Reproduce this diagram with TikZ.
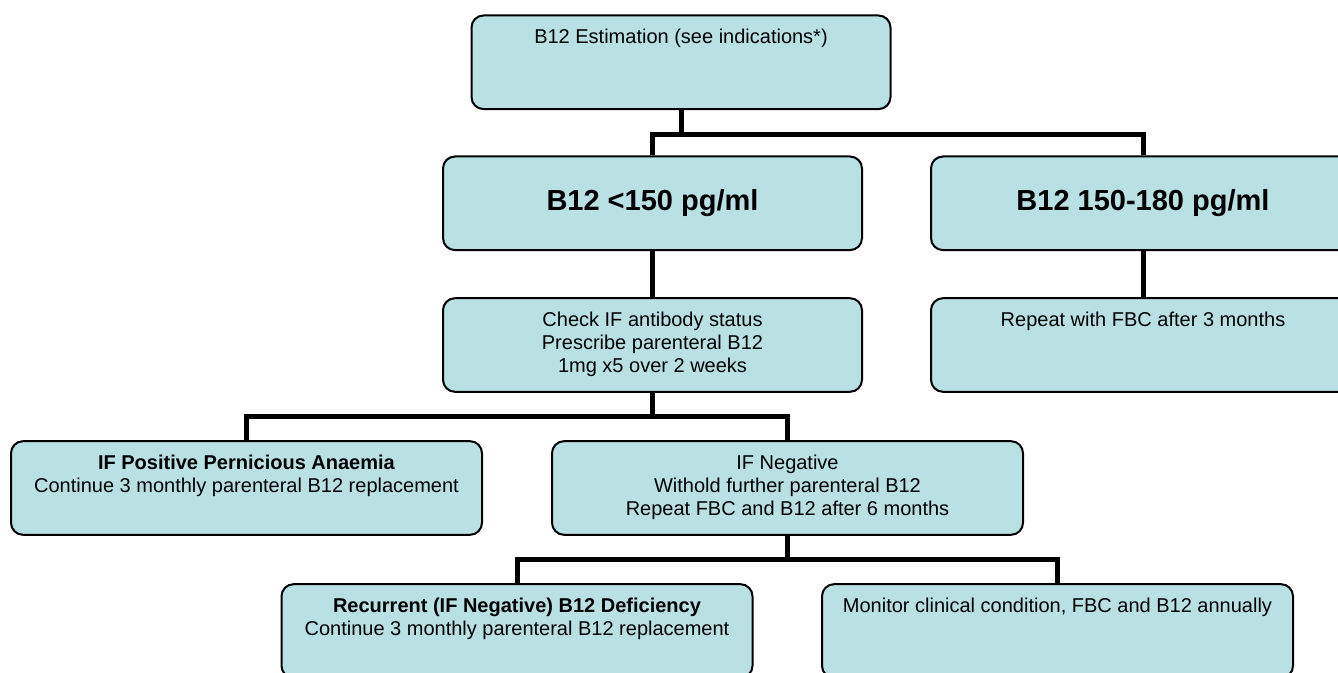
\documentclass[tikz,border=0pt]{standalone}
\usepackage{fontspec}
\setmainfont{Liberation Sans}
\usepackage{xcolor}
\definecolor{boxfill}{RGB}{185,224,227}

\tikzset{
    box/.style={draw,line width=1pt,rounded corners=6pt,fill=boxfill,minimum height=46.8pt},
    nar/.style={minimum width=209.5pt},
    mid/.style={minimum width=212pt},
    wid/.style={minimum width=235.5pt},
    txt/.style={anchor=north,align=center,inner sep=0pt,yshift=-7pt,font=\fontsize{10}{11.5}\selectfont},
    big/.style={font=\bfseries\fontsize{14.5}{17}\selectfont},
    link/.style={line width=2.5pt}
}

\begin{document}
\begin{tikzpicture}[x=0.5pt,y=-0.5pt]
            \useasboundingbox (0,0) rectangle (1338,673);
            \clip (0,0) rectangle (1338,673);

            \node (est) at (681,62.3) [box,nar,label={[txt,name=estt]north:{B12 Estimation (see indications*)}}] {};
            \node (lo) at (652.5,203.3) [box,nar,big] {B12 <150 pg/ml};
            \node (hi) at (1143,203.3) [box,mid,big] {B12 150-180 pg/ml};
            \node (chk) at (652.5,345) [box,nar,label={[txt,name=chkt]north:{Check IF antibody status\\Prescribe parenteral B12\\1mg x5 over 2 weeks}}] {};
            \node (rep) at (1143,345) [box,mid,label={[txt,name=rept]north:{Repeat with FBC after 3 months}}] {};
            \node (pos) at (246.5,488) [box,wid,label={[txt,name=post]north:{\textbf{IF Positive Pernicious Anaemia}\\Continue 3 monthly parenteral B12 replacement}}] {};
            \node (neg) at (787.5,488) [box,wid,label={[txt,name=negt]north:{IF Negative\\Withold further parenteral B12\\Repeat FBC and B12 after 6 months}}] {};
            \node (rec) at (517,631) [box,wid,label={[txt,name=rect]north:{\textbf{Recurrent (IF Negative) B12 Deficiency}\\Continue 3 monthly parenteral B12 replacement}}] {};
            \node (mon) at (1057.5,631) [box,wid,label={[txt,name=mont]north:{Monitor clinical condition, FBC and B12 annually}}] {};

            \draw[link] (est.south) -- ++(0,24) -| (lo.north);
            \draw[link] (est.south) -- ++(0,24) -| (hi.north);
            \draw[link] (lo) -- (chk);
            \draw[link] (hi) -- (rep);
            \draw[link] (chk.south) -- ++(0,24) -| (pos.north);
            \draw[link] (chk.south) -- ++(0,24) -| (neg.north);
            \draw[link] (neg.south) -- ++(0,24) -| (rec.north);
            \draw[link] (neg.south) -- ++(0,24) -| (mon.north);

        \end{tikzpicture}
\end{document}
